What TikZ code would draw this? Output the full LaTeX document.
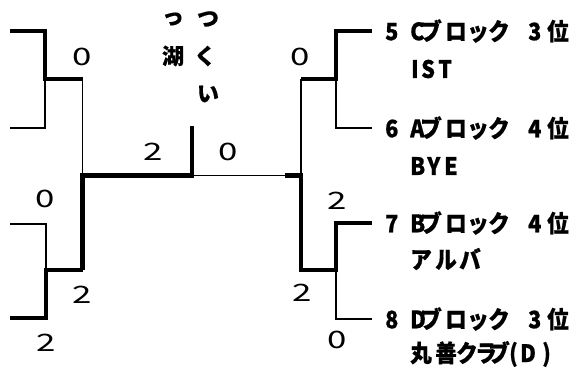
\documentclass[tikz,border=0pt]{standalone}
\usepackage{fontspec}
\newfontfamily\jpfont[FakeStretch=0.9,BoldFeatures={FakeBold=0.6}]{Noto Sans CJK JP}
\newfontfamily\vtfont[BoldFeatures={FakeBold=0.3}]{Noto Sans CJK JP}
\newfontfamily\scorefont[FakeStretch=1.45]{Noto Sans CJK JP}
\newcommand\bx[2]{\makebox[#1pt][l]{#2}}
\newcommand\teamline[3]{\bx{25}{#1}\bx{10}{#2}\bx{25}{ブ}\bx{22}{ロ}\bx{21}{ッ}\bx{40}{ク}\bx{19}{#3}位}
\begin{document}
\begin{tikzpicture}[x=1pt,y=-1pt,
  thk/.style={line width=4.6pt},
  thn/.style={line width=1.4pt},
  score/.style={font=\scorefont\fontsize{24}{24}\selectfont, inner sep=0pt},
  team/.style={font=\jpfont\bfseries\fontsize{24}{24}\selectfont, anchor=west, inner sep=0pt},
  vt/.style={font=\vtfont\bfseries\fontsize{22}{22}\selectfont, inner sep=0pt}]
\useasboundingbox (0,0) rectangle (584,367);
% coordinates
\coordinate (L1) at (10,31);
\coordinate (L2) at (10,128);
\coordinate (J1) at (45,79);
\coordinate (J1r) at (82.5,79);
\coordinate (L3) at (10,224);
\coordinate (L4) at (10,318);
\coordinate (J2) at (46,270);
\coordinate (J2r) at (82.5,270);
\coordinate (F) at (192,175.5);
\coordinate (Ft) at (192,126);
\coordinate (Fm) at (285,175.5);
\coordinate (J3) at (301,79);
\coordinate (J4) at (336,79);
\coordinate (R1) at (372,31);
\coordinate (R2) at (372,128);
\coordinate (S2) at (301,175.5);
\coordinate (J5) at (301,270);
\coordinate (J6) at (336,270);
\coordinate (R3) at (372,223);
\coordinate (R4) at (372,319);
% left top
\draw[thk] (L1) -| (J1) -- (J1r);
\draw[thn] (J1) |- (L2);
% left bottom
\draw[thn] (L3) -| (J2);
\draw[thk] (L4) -| (J2) -- (J2r);
% semifinal left
\draw[thn] (J1r) -- (J2r |- F);
\draw[thk] (J2r) |- (F) -- (Ft);
% final
\draw[thn] (F) -- (Fm);
\draw[thk] (Fm) -| (J5) -- (J6) |- (R3);
\draw[thn] (J3) -- (S2);
% right top
\draw[thk] (J3) -- (J4) |- (R1);
\draw[thn] (J4) |- (R2);
% right bottom
\draw[thn] (J6) |- (R4);
% scores
\node[score] (s1) at (82,57) {0};
\node[score] (s2) at (45,199) {0};
\node[score] (s3) at (82,295) {2};
\node[score] (s4) at (46,343) {2};
\node[score] (s5) at (153,152) {2};
\node[score] (s6) at (228,152) {0};
\node[score] (s7) at (300,57) {0};
\node[score] (s8) at (337,201) {2};
\node[score] (s9) at (302,293) {2};
\node[score] (s10) at (337,340) {0};
% vertical text
\node[vt] (v1) at (173,19) {っ};
\node[vt] (v2) at (208,19) {つ};
\node[vt] (v3) at (173,56) {湖};
\node[vt] (v4) at (205,56) {く};
\node[vt] (v5) at (208,94) {い};
% teams
\node[team] (t5) at (385,31) {\teamline{5}{C}{3}};
\node[team] (n5) at (411,69) {\bx{10}{I}\bx{17}{S}T};
\node[team] (t6) at (385,128) {\teamline{6}{A}{4}};
\node[team] (n6) at (410,166) {\bx{17}{B}\bx{17}{Y}E};
\node[team] (t7) at (385,223) {\teamline{7}{B}{4}};
\node[team] (n7) at (410,259) {\bx{25}{ア}\bx{24}{ル}バ};
\node[team] (t8) at (385,319) {\teamline{8}{D}{3}};
\node[team] (n8) at (410,354) {\bx{25}{丸}\bx{21}{善}\bx{19}{ク}\bx{13}{ラ}\bx{21}{ブ}\bx{11}{(}\bx{22}{D})};
\end{tikzpicture}
\end{document}
